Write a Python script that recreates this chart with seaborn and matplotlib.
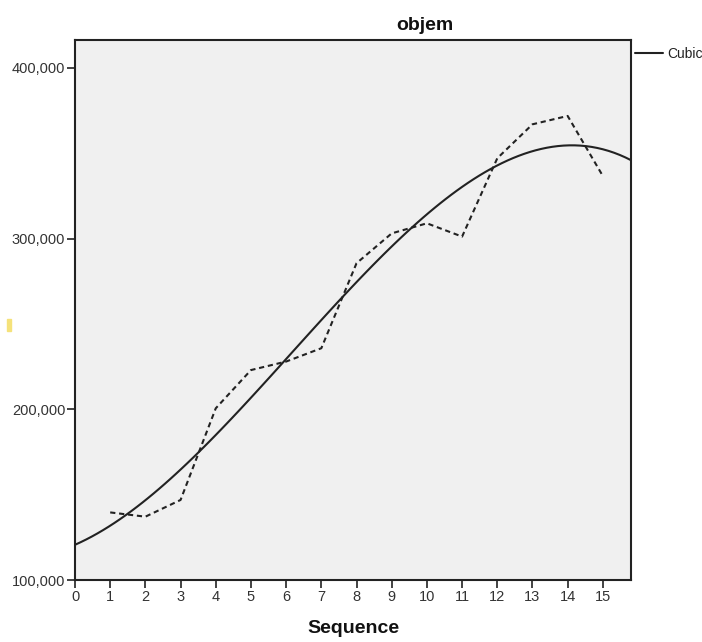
import matplotlib
matplotlib.use("Agg")
import matplotlib.pyplot as plt
import matplotlib.ticker as mticker
from matplotlib.patches import Rectangle
import seaborn as sns
import pandas as pd

# Observed series (objem) over the sequence index
sequence = [1, 2, 3, 4, 5, 6, 7, 8, 9, 10, 11, 12, 13, 14, 15]
objem = [139600, 137100, 146900, 200600, 223000, 228000, 235800, 285600,
         303100, 309000, 301200, 347100, 367000, 371900, 336700]

x_ticks = list(range(0, 16))
y_ticks = [100000, 200000, 300000, 400000]

df = pd.DataFrame({"Sequence": sequence, "objem": objem})

sns.set_theme(style="white")
plt.rcParams["font.family"] = ["Liberation Sans", "DejaVu Sans"]

fig = plt.figure(figsize=(7.02, 6.42), dpi=100)
ax = fig.add_axes([75 / 702, 62 / 642, 556 / 702, 540 / 642])
ax.set_facecolor("#f0f0f0")

ax.set_xlim(0, 15.8)
ax.set_ylim(100000, 416400)

# observed values, dashed
sns.lineplot(data=df, x="Sequence", y="objem", ax=ax, color="#222222",
             linewidth=1.5, linestyle=(0, (2.5, 1.8)), legend=False)

# cubic trend fitted to the observed values, spanning the whole axis
sns.regplot(data=df, x="Sequence", y="objem", order=3, ci=None,
            scatter=False, truncate=False, ax=ax,
            line_kws={"color": "#222222", "linewidth": 1.5}, label="Cubic")

ax.set_xticks(x_ticks)
ax.set_yticks(y_ticks)
ax.yaxis.set_major_formatter(mticker.FuncFormatter(lambda v, p: f"{int(v):,}"))
ax.tick_params(axis="both", which="major", direction="out", length=6,
               width=1.2, color="#222222", labelsize=10.5, labelcolor="#333333",
               pad=1, left=True, bottom=True)
for s in ax.spines.values():
    s.set_color("#222222")
    s.set_linewidth(1.5)

ax.set_xlabel("Sequence", fontsize=14, fontweight="bold", labelpad=12,
              color="#111111")
ax.set_ylabel("")
fig.text(425 / 702, 1 - 25 / 642, "objem", ha="center", va="center",
         fontsize=14, fontweight="bold", color="#111111")

# legend entry placed to the right of the plot
leg = ax.legend(loc="upper left", bbox_to_anchor=(1.0, 0.995), frameon=False,
                fontsize=10, handlelength=2.0, handletextpad=0.3,
                borderaxespad=0.2, borderpad=0.1)
for t in leg.get_texts():
    t.set_color("#222222")

# small yellow mark on the left margin
fig.patches.append(Rectangle((7 / 702, 1 - 331 / 642), 4 / 702, 12 / 642,
                             transform=fig.transFigure, color="#f5e27a",
                             zorder=0))

fig.savefig("out.png", dpi=100)
